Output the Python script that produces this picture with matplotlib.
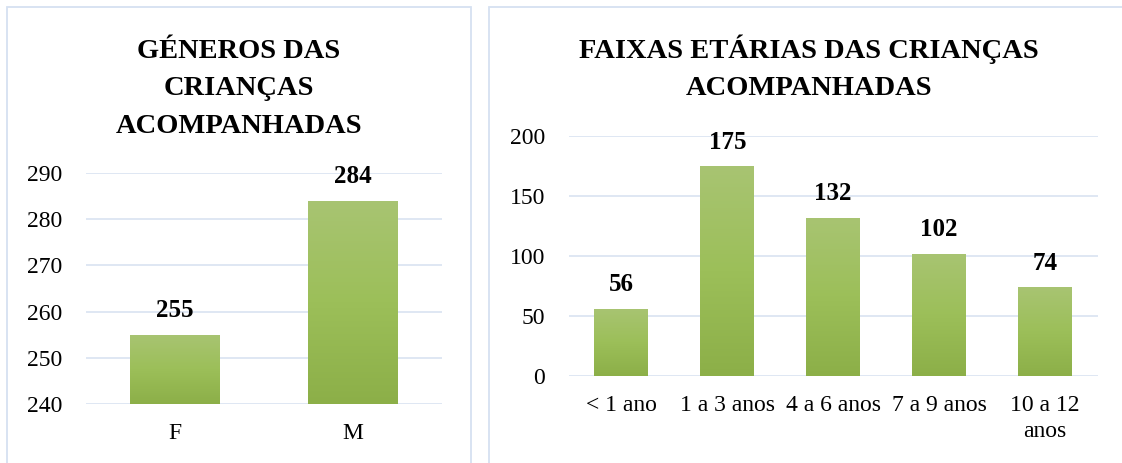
import matplotlib.pyplot as plt
import numpy as np
from matplotlib.patches import Rectangle
from matplotlib.colors import LinearSegmentedColormap

# ------------------------- data -------------------------
genero_cats = ['F', 'M']
genero_vals = [255, 284]

idade_cats = ['< 1 ano', '1 a 3 anos', '4 a 6 anos', '7 a 9 anos', '10 a 12\nanos']
idade_vals = [56, 175, 132, 102, 74]

titulo_genero = ['GÉNEROS DAS', 'CRIANÇAS', 'ACOMPANHADAS']
titulo_idade = ['FAIXAS ETÁRIAS DAS CRIANÇAS', 'ACOMPANHADAS']

# ------------------------- style -------------------------
plt.rcParams['font.family'] = ['Liberation Serif', 'DejaVu Serif']
W, H = 1122, 463
grid_col = '#d9e3f1'
border_col = '#d6e1f1'
green = LinearSegmentedColormap.from_list(
    'excel_green', ['#8caf48', '#9cbf59', '#a8c472'])  # bottom -> top
tick_fs = 17
lab_fs = 18


def fx(px):
    return px / W


def fy(py):
    return 1 - py / H


def gradient_bars(ax, bars):
    grad = np.linspace(0, 1, 256).reshape(-1, 1)
    y0 = ax.get_ylim()[0]
    for b in bars:
        x, y = b.get_x(), b.get_y()
        w, h = b.get_width(), b.get_height()
        b.set_facecolor('none')
        im = ax.imshow(grad, cmap=green, origin='lower', aspect='auto',
                       extent=[x, x + w, max(y, y0), y + h], zorder=2)
        im.set_clip_path(b)


def style_axis(ax, ylim, yticks):
    ax.set_ylim(*ylim)
    ax.set_yticks(yticks)
    ax.yaxis.grid(True, color=grid_col, linewidth=1.2)
    ax.set_axisbelow(True)
    for s in ax.spines.values():
        s.set_visible(False)
    ax.tick_params(axis='both', length=0, labelsize=tick_fs)
    ax.tick_params(axis='y', pad=17)
    ax.tick_params(axis='x', pad=14)


fig = plt.figure(figsize=(W / 100, H / 100), dpi=100)

# panel borders
fig.add_artist(Rectangle((fx(7), fy(470)), fx(471 - 7), fy(7) - fy(470),
                         transform=fig.transFigure, fill=False,
                         edgecolor=border_col, linewidth=1.3))
fig.add_artist(Rectangle((fx(489), fy(470)), fx(1140 - 489), fy(7) - fy(470),
                         transform=fig.transFigure, fill=False,
                         edgecolor=border_col, linewidth=1.3))

# ------------------------- left chart -------------------------
ax1 = fig.add_axes([fx(86), fy(404), fx(442 - 86), fy(173) - fy(404)])
x1 = np.arange(len(genero_cats))
bars1 = ax1.bar(x1, genero_vals, width=0.505)
ax1.set_xlim(-0.5, len(genero_cats) - 0.5)
style_axis(ax1, (240, 290), range(240, 291, 10))
ax1.set_xticks(x1)
ax1.set_xticklabels(genero_cats)
gradient_bars(ax1, bars1)
for xi, v in zip(x1, genero_vals):
    ax1.annotate(str(v), (xi, v), xytext=(0, 12.5), textcoords='offset points',
                 ha='center', va='baseline', fontsize=lab_fs, fontweight='bold')

for i, line in enumerate(titulo_genero):
    fig.text(fx(239), fy(58 + 37.3 * i), line, ha='center', va='baseline',
             fontsize=20.5, fontweight='bold')

# ------------------------- right chart -------------------------
ax2 = fig.add_axes([fx(568.5), fy(376), fx(1097.7 - 568.5), fy(136) - fy(376)])
x2 = np.arange(len(idade_cats))
bars2 = ax2.bar(x2, idade_vals, width=0.51)
ax2.set_xlim(-0.5, len(idade_cats) - 0.5)
style_axis(ax2, (0, 200), range(0, 201, 50))
ax2.set_xticks(x2)
ax2.set_xticklabels(idade_cats, linespacing=1.3)
gradient_bars(ax2, bars2)
for xi, v in zip(x2, idade_vals):
    ax2.annotate(str(v), (xi, v), xytext=(0, 12.5), textcoords='offset points',
                 ha='center', va='baseline', fontsize=lab_fs, fontweight='bold')

for i, line in enumerate(titulo_idade):
    fig.text(fx(809), fy(58 + 37.3 * i), line, ha='center', va='baseline',
             fontsize=20.5, fontweight='bold')

fig.savefig('out.png', dpi=100)
